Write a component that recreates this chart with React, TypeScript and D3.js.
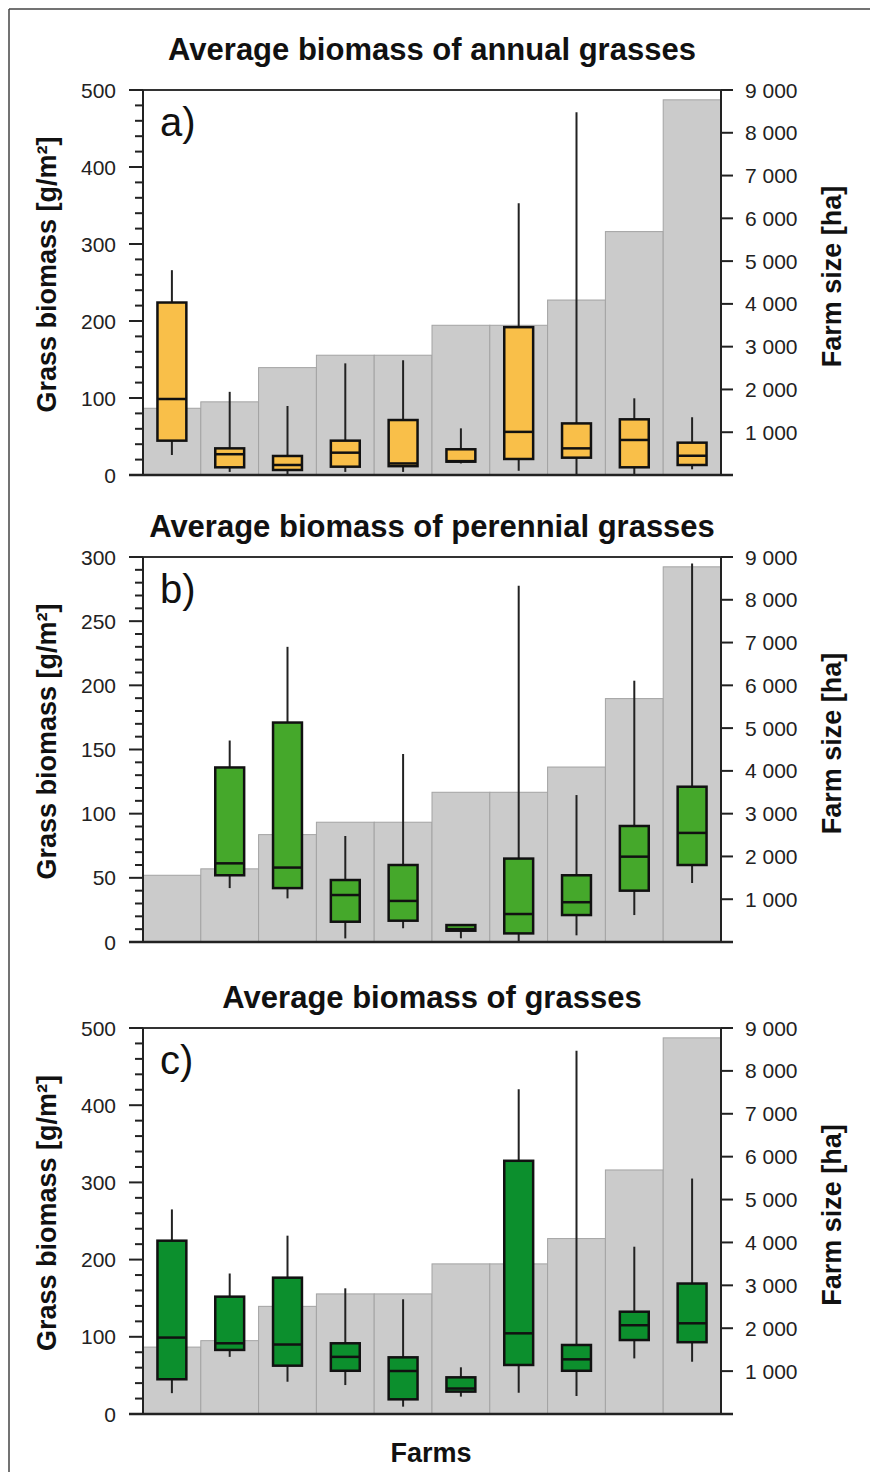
import React from 'react';
import * as d3 from 'd3';

const farms = ['F1', 'F2', 'F3', 'F4', 'F5', 'F6', 'F7', 'F8', 'F9', 'F10'];
const farmSize = [1560, 1710, 2510, 2800, 2800, 3500, 3500, 4090, 5690, 8770];
const farmTicks = [1000, 2000, 3000, 4000, 5000, 6000, 7000, 8000, 9000];

// a) annual grasses
const annualLow = [26, 4, 1, 4, 4, 15, 5.6, 0, 0, 7.4];
const annualQ1 = [44.6, 10, 6.5, 10.8, 11.5, 17.3, 20.8, 22.5, 10, 13];
const annualMed = [98.7, 27, 13, 29, 15, 18, 56, 34.6, 45.5, 25];
const annualQ3 = [224, 34.6, 24.7, 44.6, 71.4, 33.4, 192, 67, 72.3, 42];
const annualHigh = [266, 108, 89.6, 145, 149, 60.6, 353, 471, 99.6, 75];

// b) perennial grasses
const perLow = [null, 42, 34, 2.8, 10.7, 2.9, 0, 5.2, 21, 46];
const perQ1 = [null, 52, 42, 15.8, 16.6, 8.8, 6.7, 21, 40, 60];
const perMed = [null, 61.3, 58, 36.6, 32, 10, 21.8, 31, 66.5, 85];
const perQ3 = [null, 136, 171, 48.3, 60, 13.2, 65, 52, 90.4, 121];
const perHigh = [null, 157, 230, 82.6, 146.5, 13.2, 277.6, 114.5, 203.6, 295];

// c) all grasses
const totLow = [27, 74, 41.8, 37.5, 9.5, 22.5, 27.6, 23.3, 72, 67.7];
const totQ1 = [45, 83, 62.6, 56, 19, 29, 63.5, 56, 95.8, 93];
const totMed = [99, 91.6, 90, 74, 55.7, 33, 104.5, 70.8, 115, 117.5];
const totQ3 = [224.5, 152, 176.6, 91.6, 73.4, 47.5, 328, 89.4, 132.5, 169];
const totHigh = [265, 182, 231, 162.8, 148.6, 60.5, 420.6, 470.6, 216.7, 305];

const FONT = '"Liberation Sans", Arial, Helvetica, sans-serif';

type PanelDef = {
  title: string;
  letter: string;
  titleY: number;
  top: number;
  bottom: number;
  yMax: number;
  major: number;
  minor: number;
  color: string;
  low: (number | null)[];
  q1: (number | null)[];
  med: (number | null)[];
  q3: (number | null)[];
  high: (number | null)[];
};

const panels: PanelDef[] = [
  { title: 'Average biomass of annual grasses', letter: 'a)', titleY: 60, top: 90, bottom: 475, yMax: 500, major: 100, minor: 20, color: '#f9bf49', low: annualLow, q1: annualQ1, med: annualMed, q3: annualQ3, high: annualHigh },
  { title: 'Average biomass of perennial grasses', letter: 'b)', titleY: 537, top: 557, bottom: 942, yMax: 300, major: 50, minor: 10, color: '#45a82b', low: perLow, q1: perQ1, med: perMed, q3: perQ3, high: perHigh },
  { title: 'Average biomass of grasses', letter: 'c)', titleY: 1008, top: 1028, bottom: 1414, yMax: 500, major: 100, minor: 20, color: '#0c8f2d', low: totLow, q1: totQ1, med: totMed, q3: totQ3, high: totHigh },
];

const LEFT = 143;
const RIGHT = 721;

function Panel({ p }: { p: PanelDef }) {
  const x = d3.scaleBand<string>().domain(farms).range([LEFT, RIGHT]).padding(0);
  const y = d3.scaleLinear().domain([0, p.yMax]).range([p.bottom, p.top]);
  const y2 = d3.scaleLinear().domain([0, 9000]).range([p.bottom, p.top]);
  const bw = x.bandwidth();
  const boxW = bw * 0.5;
  const majors = d3.range(0, p.yMax + 0.001, p.major);
  const minors = d3.range(0, p.yMax + 0.001, p.minor).filter((v) => Math.abs(v % p.major) > 1e-6);
  const mid = (p.top + p.bottom) / 2;
  const fmt = (v: number) => d3.format(',')(v).replace(/,/g, ' ');
  return (
    <g>
      <text x={(LEFT + RIGHT) / 2} y={p.titleY} textAnchor="middle" fontFamily={FONT} fontWeight="bold" fontSize={31} fill="#111">{p.title}</text>
      {/* farm size bars */}
      {farms.map((f, i) => (
        <rect key={f} x={x(f)!} y={y2(farmSize[i])} width={bw} height={p.bottom - y2(farmSize[i])} fill="#cbcbcb" stroke="#a3a3a3" strokeWidth={1} />
      ))}
      {/* box plots */}
      {farms.map((f, i) => {
        if (p.q1[i] == null) return null;
        const cx = x(f)! + bw / 2;
        return (
          <g key={'b' + f}>
            <line x1={cx} x2={cx} y1={y(p.low[i] as number)} y2={y(p.high[i] as number)} stroke="#222" strokeWidth={2} />
            <rect x={cx - boxW / 2} y={y(p.q3[i] as number)} width={boxW} height={y(p.q1[i] as number) - y(p.q3[i] as number)} fill={p.color} stroke="#111" strokeWidth={2.5} />
            <line x1={cx - boxW / 2} x2={cx + boxW / 2} y1={y(p.med[i] as number)} y2={y(p.med[i] as number)} stroke="#111" strokeWidth={2.5} />
          </g>
        );
      })}
      {/* frame lines */}
      <line x1={LEFT - 14} x2={RIGHT + 12} y1={p.top} y2={p.top} stroke="#333" strokeWidth={2} />
      <line x1={LEFT - 14} x2={RIGHT + 12} y1={p.bottom} y2={p.bottom} stroke="#222" strokeWidth={2.5} />
      <line x1={LEFT} x2={LEFT} y1={p.top} y2={p.bottom} stroke="#222" strokeWidth={2} />
      <line x1={RIGHT} x2={RIGHT} y1={p.top} y2={p.bottom} stroke="#222" strokeWidth={2} />
      {/* left ticks */}
      {majors.map((v) => (
        <g key={'m' + v}>
          <line x1={LEFT - 14} x2={LEFT} y1={y(v)} y2={y(v)} stroke="#222" strokeWidth={2} />
          <text x={116} y={y(v)} dy="0.36em" textAnchor="end" fontFamily={FONT} fontSize={21} fill="#222">{v}</text>
        </g>
      ))}
      {minors.map((v) => (
        <line key={'n' + v} x1={LEFT - 8} x2={LEFT} y1={y(v)} y2={y(v)} stroke="#222" strokeWidth={2} />
      ))}
      {/* right ticks */}
      {farmTicks.map((v) => (
        <g key={'r' + v}>
          <line x1={RIGHT} x2={RIGHT + 12} y1={y2(v)} y2={y2(v)} stroke="#222" strokeWidth={2} />
          <text x={745} y={y2(v)} dy="0.36em" textAnchor="start" fontFamily={FONT} fontSize={21} fill="#222">{fmt(v)}</text>
        </g>
      ))}
      <text x={160} y={p.top + 46} fontFamily={FONT} fontSize={40} fill="#111">{p.letter}</text>
      <text transform={`translate(56,${mid - 8}) rotate(-90)`} textAnchor="middle" fontFamily={FONT} fontWeight="bold" fontSize={27} fill="#111">Grass biomass [g/m²]</text>
      <text transform={`translate(841,${mid - 6}) rotate(-90)`} textAnchor="middle" fontFamily={FONT} fontWeight="bold" fontSize={27} fill="#111">Farm size [ha]</text>
    </g>
  );
}

export default function App() {
  return (
    <svg width={870} height={1472} style={{ position: 'absolute', left: 0, top: 0, background: '#fff' }}>
      <rect x={0} y={0} width={870} height={1472} fill="#fff" />
      <line x1={9} x2={9} y1={9} y2={1472} stroke="#444" strokeWidth={1.5} />
      <line x1={9} x2={870} y1={9} y2={9} stroke="#444" strokeWidth={1.5} />
      {panels.map((p) => (
        <Panel key={p.letter} p={p} />
      ))}
      <text x={431} y={1462} textAnchor="middle" fontFamily={FONT} fontWeight="bold" fontSize={27} fill="#111">Farms</text>
    </svg>
  );
}
